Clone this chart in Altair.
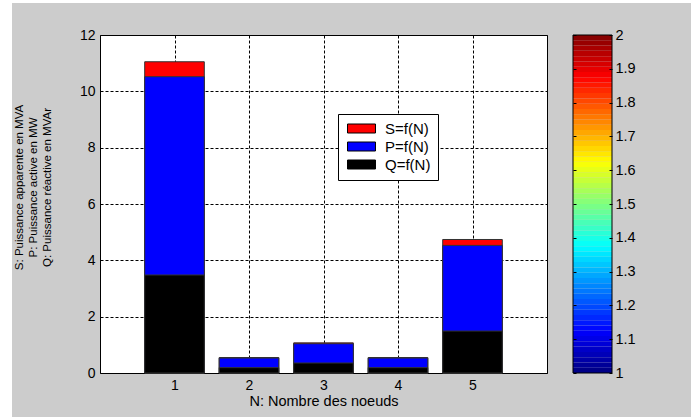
import altair as alt
import numpy as np
import pandas as pd

# Power per node (N = node number)
nodes = [1, 2, 3, 4, 5]
s_apparent = [11.05, 0.55, 1.07, 0.55, 4.74]   # S, MVA
p_active = [10.52, 0.53, 1.04, 0.53, 4.53]     # P, MW
q_reactive = [3.48, 0.19, 0.355, 0.19, 1.49]   # Q, MVAr

series_labels = ["S=f(N)", "P=f(N)", "Q=f(N)"]
series_colors = ["#ff0000", "#0000ff", "#000000"]

x_ticks = [1, 2, 3, 4, 5]
y_ticks = [0, 2, 4, 6, 8, 10, 12]
cbar_ticks = [1, 1.1, 1.2, 1.3, 1.4, 1.5, 1.6, 1.7, 1.8, 1.9, 2]

# jet colormap anchor points over the colorbar range 1..2
jet_stops = [1.0, 1.125, 1.375, 1.625, 1.875, 2.0]
jet_colors = ["#000080", "#0000ff", "#00ffff", "#ffff00", "#ff0000", "#800000"]
n_levels = 64

FONT = "Liberation Sans"
W, H = 447, 338

# bars are overlaid from the tallest (S) to the shortest (Q)
rows = []
for label, vals in zip(series_labels, [s_apparent, p_active, q_reactive]):
    for n, v in zip(nodes, vals):
        rows.append({"N": n, "val": v, "serie": label})
bars_df = pd.DataFrame(rows)

edges = np.linspace(1, 2, n_levels + 1)
cbar_df = pd.DataFrame({"lo": edges[:-1], "hi": edges[1:],
                        "mid": (edges[:-1] + edges[1:]) / 2})
frame_df = pd.DataFrame({"lo": [1.0], "hi": [2.0]})
one = pd.DataFrame({"k": [0]})

bars = alt.Chart(bars_df).transform_calculate(
    x0="datum.N - 0.4", x1="datum.N + 0.4"
).mark_bar(stroke="#333333", strokeWidth=1).encode(
    x=alt.X("x0:Q", scale=alt.Scale(domain=[0, 6], nice=False, zero=False),
            axis=alt.Axis(values=x_ticks, format="d", tickSize=0, labelPadding=5,
                          domain=False, grid=True, gridColor="#000000",
                          gridDash=[3, 2], gridOpacity=1, gridWidth=1,
                          labelFontSize=14, labelColor="#000000",
                          title="N: Nombre des noeuds", titleFontSize=14.5,
                          titleFontWeight="normal", titleColor="#000000",
                          titleY=21, titleBaseline="top")),
    x2="x1:Q",
    y=alt.Y("val:Q", stack=None, scale=alt.Scale(domain=[0, 12], nice=False),
            axis=alt.Axis(values=y_ticks, tickSize=0, labelPadding=5,
                          domain=False, grid=True, gridColor="#000000",
                          gridDash=[3, 2], gridOpacity=1, gridWidth=1,
                          labelFontSize=14, labelColor="#000000",
                          title=["S: Puissance apparente en MVA",
                                 "P: Puissance active en MW",
                                 "Q: Puissance réactive en MVAr"],
                          titleFontSize=11.5, titleFontWeight="normal",
                          titleColor="#000000", titleAngle=270,
                          titleAlign="center", titleBaseline="middle",
                          titleLineHeight=14, titleX=-81, titleY=152)),
    y2=alt.datum(0),
    color=alt.Color("serie:N",
                    scale=alt.Scale(domain=series_labels, range=series_colors),
                    legend=alt.Legend(title=None, orient="none", legendX=238,
                                      legendY=79, fillColor="#ffffff",
                                      strokeColor="#000000", padding=7,
                                      symbolType="M-3.11,-1L3.11,-1L3.11,1L-3.11,1Z",
                                      symbolSize=81, symbolStrokeColor="#000000",
                                      symbolStrokeWidth=1, symbolOpacity=1,
                                      symbolOffset=9, labelOffset=16,
                                      labelFontSize=15, labelColor="#000000",
                                      rowPadding=2)),
)

# colorbar: 64 jet bands with its own 1..2 scale
bands = alt.Chart(cbar_df).mark_rect().encode(
    x=alt.value(473), x2=alt.value(512),
    y=alt.Y("lo:Q", title=None,
            scale=alt.Scale(domain=[1, 2], nice=False, zero=False),
            axis=alt.Axis(orient="right", offset=62, values=cbar_ticks,
                          format="~g", tickSize=3, tickColor="#000000",
                          labelPadding=3, domain=False, grid=False, zindex=1,
                          labelFontSize=14.5, labelColor="#000000")),
    y2="hi:Q",
    fill=alt.Fill("mid:Q", legend=None,
                  scale=alt.Scale(domain=jet_stops, range=jet_colors,
                                  interpolate="rgb")),
)

cbar_frame = alt.Chart(frame_df).mark_rect(
    fillOpacity=0, stroke="#000000", strokeWidth=1
).encode(
    x=alt.value(473), x2=alt.value(512),
    y=alt.Y("lo:Q", title=None,
            scale=alt.Scale(domain=[1, 2], nice=False, zero=False),
            axis=alt.Axis(orient="right", offset=26, values=cbar_ticks,
                          tickSize=3, tickColor="#000000", labels=False,
                          domain=False, grid=False, zindex=1)),
    y2="hi:Q",
)

# thin white margin along the left and top edges of the figure
strip_left = alt.Chart(one).mark_rect(color="#ffffff").encode(
    x=alt.value(-100), x2=alt.value(-88), y=alt.value(-35), y2=alt.value(382)
)
strip_top = alt.Chart(one).mark_rect(color="#ffffff").encode(
    x=alt.value(-100), x2=alt.value(591), y=alt.value(-35), y2=alt.value(-32)
)

chart = alt.layer(
    strip_left, strip_top, bars, bands, cbar_frame
).resolve_scale(
    y="independent"
).properties(
    width=W, height=H,
    autosize=alt.AutoSizeParams(type="none"),
    padding={"left": 100, "top": 35, "right": 144, "bottom": 44},
    background="#cccccc",
).configure(
    font=FONT,
).configure_view(
    fill="#ffffff", stroke="#000000", strokeWidth=1,
).configure_axis(
    labelFont=FONT, titleFont=FONT,
).configure_legend(
    labelFont=FONT,
)

chart.save("out.html", embed_options={"renderer": "svg", "actions": False})
